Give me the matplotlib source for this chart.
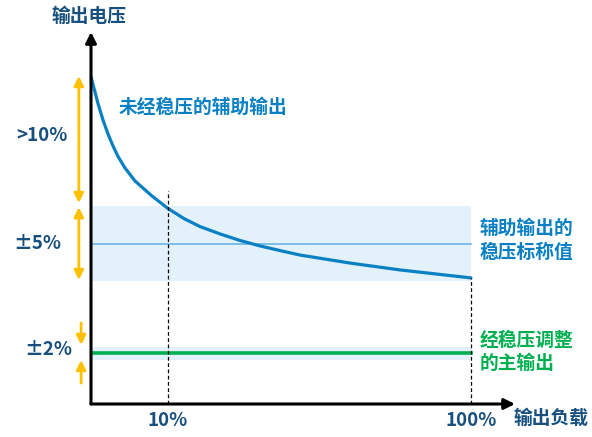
import matplotlib
matplotlib.use("Agg")
import matplotlib.pyplot as plt

plt.rcParams["font.family"] = ["Noto Sans CJK SC", "DejaVu Sans"]

# ===== Data (schematic units: load position 0-100, voltage relative to aux nominal = 100) =====
load_pos = [0, 1.05, 1.84, 3.16, 4.47, 5.79, 7.11, 8.95, 11.58, 16.05, 20.26,
            24.47, 28.68, 33.95, 39.21, 44.47, 49.74, 55.0, 68.16, 81.32, 100]
aux_unreg = [204.6, 195.0, 187.8, 177.5, 168.8, 161.3, 154.7, 147.5, 139.4, 130.0, 122.2,
             115.9, 110.9, 106.3, 102.2, 98.8, 95.9, 93.1, 88.1, 83.8, 78.8]
aux_nominal = 100
aux_band = (77, 124)
main_reg = 32
main_band = (27.5, 35.6)
tick_pos = [20.26, 100]
tick_labels = ["10%", "100%"]

dark = "#17507e"
blue = "#0a80c4"
green = "#00b050"
yellow = "#ffc000"
band_col = "#e3f1fa"

fig = plt.figure(figsize=(5.92, 4.37), dpi=100)
ax = fig.add_axes([91 / 592, 33 / 437, 424 / 592, 372 / 437])
ax.set_xlim(0, 111.6)
ax.set_ylim(0, 232.5)
for s in ax.spines.values():
    s.set_visible(False)
ax.set_xticks([])
ax.set_yticks([])

# bands and lines
ax.fill_between([0, 100], aux_band[0], aux_band[1], color=band_col, lw=0)
ax.fill_between([0, 100], main_band[0], main_band[1], color=band_col, lw=0)
ax.plot([0, 100], [aux_nominal, aux_nominal], color="#5fb1e0", lw=1.1)
ax.plot([0, 100], [main_reg, main_reg], color=green, lw=2.6)
ax.plot(load_pos, aux_unreg, color=blue, lw=2.3, solid_capstyle="round", solid_joinstyle="round")

# dashed guides
ax.plot([tick_pos[0], tick_pos[0]], [0, 133], color="black", lw=0.9, ls=(0, (3, 2)))
ax.plot([tick_pos[1], tick_pos[1]], [0, aux_unreg[-1]], color="black", lw=0.9, ls=(0, (3, 2)))

# axes with arrows
ax.annotate("", xy=(0, 232.5), xytext=(0, 0), annotation_clip=False,
            arrowprops=dict(arrowstyle="-|>", color="black", lw=2.2, mutation_scale=16,
                            shrinkA=0, shrinkB=0))
ax.annotate("", xy=(111.6, 0), xytext=(0, 0), annotation_clip=False,
            arrowprops=dict(arrowstyle="-|>", color="black", lw=2.2, mutation_scale=16,
                            shrinkA=0, shrinkB=0))

# yellow range arrows
def yarrow(x, y0, y1, style):
    ax.annotate("", xy=(x, y1), xytext=(x, y0), annotation_clip=False,
                arrowprops=dict(arrowstyle=style, color=yellow, lw=2, mutation_scale=14,
                                shrinkA=0, shrinkB=0))

yarrow(-3.2, 125.6, 205, "<|-|>")
yarrow(-3.2, 77.5, 123, "<|-|>")
yarrow(-2.6, 50.6, 36.9, "-|>")
yarrow(-2.6, 13.1, 27.5, "-|>")

# text
kw = dict(fontsize=13.5, fontweight="bold", clip_on=False)
ax.text(-0.5, 242.5, "输出电压", color=dark, ha="center", va="center", **kw)
ax.text(-12.9, 168.1, ">10%", color=dark, ha="center", va="center", **kw)
ax.text(-14.2, 100.6, "±5%", color=dark, ha="center", va="center", **kw)
ax.text(-11.3, 33.8, "±2%", color=dark, ha="center", va="center", **kw)
for p, lab in zip(tick_pos, tick_labels):
    ax.text(p, -10.5, lab, color=dark, ha="center", va="center", **kw)
ax.text(121, -9, "输出负载", color=dark, ha="center", va="center", **kw)
ax.text(7.4, 185.6, "未经稳压的辅助输出", color=blue, ha="left", va="center", **kw)
ax.text(102.4, 110, "辅助输出的", color=blue, ha="left", va="center", **kw)
ax.text(102.4, 95, "稳压标称值", color=blue, ha="left", va="center", **kw)
ax.text(102.4, 40, "经稳压调整", color=green, ha="left", va="center", **kw)
ax.text(102.4, 25.6, "的主输出", color=green, ha="left", va="center", **kw)

fig.savefig("out.png", dpi=100)
